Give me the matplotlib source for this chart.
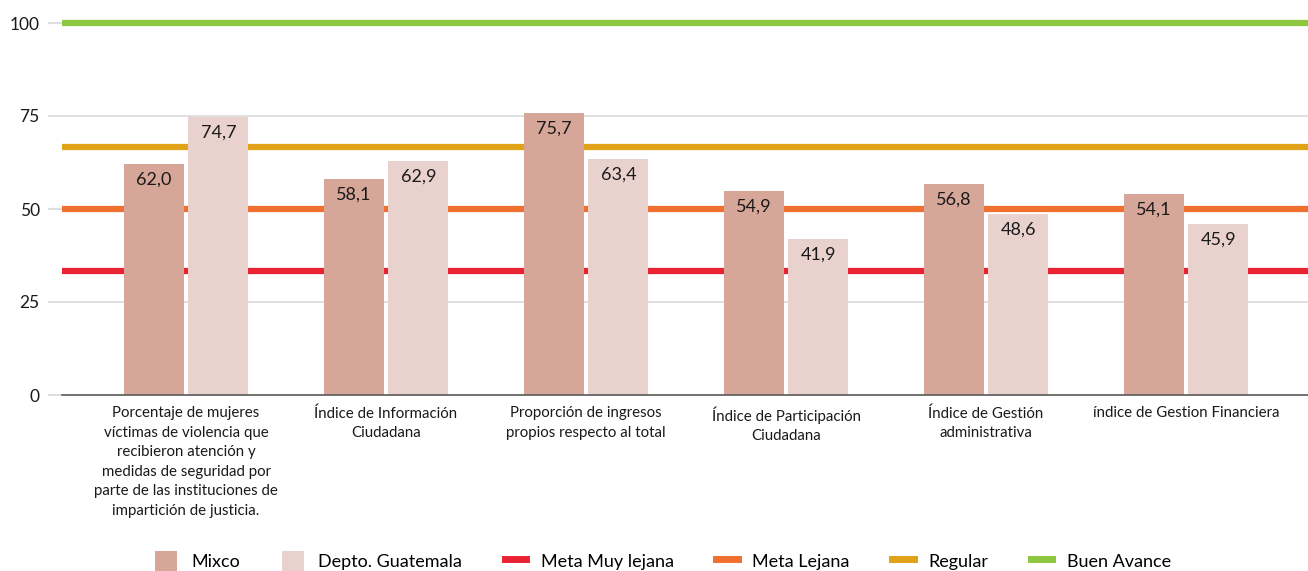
import matplotlib
matplotlib.use("Agg")
import matplotlib.pyplot as plt
from matplotlib.patches import Patch
from matplotlib.lines import Line2D
import numpy as np

plt.rcParams['font.family'] = ['Lato', 'DejaVu Sans']

categories = [
    "Porcentaje de mujeres\nvíctimas de violencia que\nrecibieron atención y\nmedidas de seguridad por\nparte de las instituciones de\nimpartición de justicia.",
    "Índice de Información\nCiudadana",
    "Proporción de ingresos\npropios respecto al total",
    "Índice de Participación\nCiudadana",
    "Índice de Gestión\nadministrativa",
    "índice de Gestion Financiera",
]
mixco = [62.0, 58.1, 75.7, 54.9, 56.8, 54.1]
depto = [74.7, 62.9, 63.4, 41.9, 48.6, 45.9]
series_names = ["Mixco", "Depto. Guatemala"]
ref_names = ["Meta Muy lejana", "Meta Lejana", "Regular", "Buen Avance"]
ref_values = [33.3, 50, 66.7, 100]
yticks = [0, 25, 50, 75, 100]

c_mixco = "#D6A699"
c_depto = "#E9D2CE"
ref_colors = ["#EA2334", "#F07030", "#E0A216", "#8DC63F"]

W, H = 1308, 571
fig = plt.figure(figsize=(W / 100, H / 100), dpi=100)
left, right, top, bottom = 62, 1308, 23, 395
ax = fig.add_axes([left / W, 1 - bottom / H, (right - left) / W, (bottom - top) / H])

x = np.arange(len(categories))
# pixel center of group i = 186 + 200*i
ax.set_xlim((left - 186) / 200, (right - 186) / 200)
ax.set_ylim(0, 100)

for v in [25, 75]:
    ax.axhline(v, color="#D9D9D9", lw=1.2, zorder=0)

for v, c in zip(ref_values, ref_colors):
    ax.axhline(v, color=c, lw=4.5, zorder=1, clip_on=False, solid_capstyle='butt')

bw = 0.3
off = 0.162
b1 = ax.bar(x - off, mixco, bw, color=c_mixco, zorder=2)
b2 = ax.bar(x + off, depto, bw, color=c_depto, zorder=2)

for bars, vals in [(b1, mixco), (b2, depto)]:
    for b, v in zip(bars, vals):
        ax.text(b.get_x() + b.get_width() / 2, v - 2.0, f"{v:.1f}".replace(".", ","),
                ha="center", va="top", fontsize=13, color="#1a1a1a", zorder=3)

ax.set_yticks(yticks)
ax.set_yticklabels([str(t) for t in yticks], fontsize=12.5, color="#1a1a1a")
ax.tick_params(axis='y', length=10, width=1.2, color="#D9D9D9", pad=6)
ax.set_xticks(x)
ax.set_xticklabels(categories, fontsize=10.8, color="#1a1a1a", linespacing=1.5)
ax.tick_params(axis='x', length=0, pad=8)

for s in ["top", "right", "left"]:
    ax.spines[s].set_visible(False)
ax.spines["bottom"].set_color("#595959")
ax.spines["bottom"].set_linewidth(1.2)

handles = [Patch(facecolor=c_mixco), Patch(facecolor=c_depto)]
handles += [Line2D([0], [0], color=c, lw=5) for c in ref_colors]
labels = series_names + ref_names
fig.legend(handles, labels, loc="center", bbox_to_anchor=(663 / W, 1 - 561 / H),
           ncol=6, frameon=False, fontsize=13, handlelength=1.2, handleheight=1.4,
           columnspacing=2.35, handletextpad=0.8)

fig.savefig("out.png", dpi=100)
